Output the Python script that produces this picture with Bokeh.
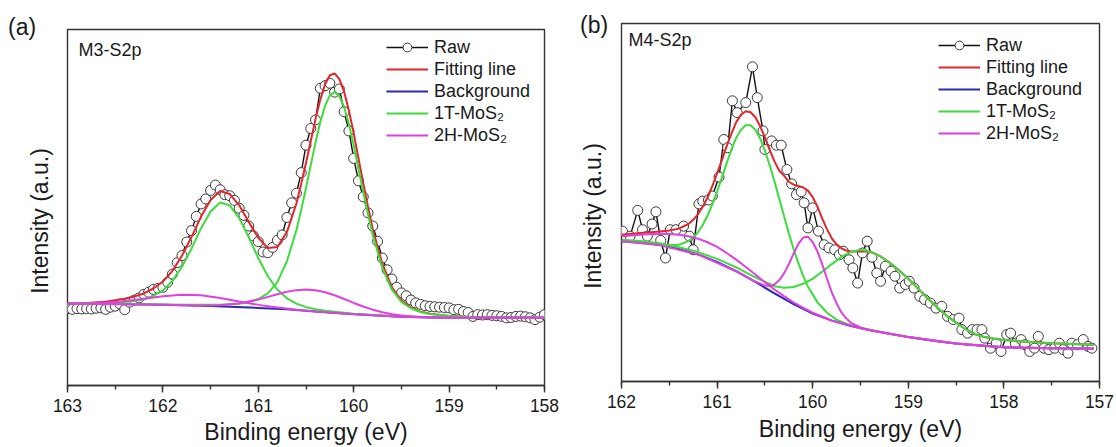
from bokeh.plotting import figure
from bokeh.layouts import row, column
from bokeh.models import Range1d, Label, Legend, LegendItem, SingleIntervalTicker, Div
from bokeh.embed import file_html
from bokeh.resources import INLINE

FONT = "Liberation Sans"
C_RED = "#e3262b"
C_BLUE = "#2a2ab8"
C_GREEN = "#3ddc3d"
C_MAG = "#e040e0"
C_FRAME = "#333333"
C_TEXT = "#1a1a1a"

series_names = ["Raw", "Fitting line", "Background", "1T-MoS\u2082", "2H-MoS\u2082"]
x_label = "Binding energy (eV)"
y_label = "Intensity (a.u.)"
panel_tags = ["(a)", "(b)"]
panel_names = ["M3-S2p", "M4-S2p"]

# ---------------- panel (a) : M3-S2p ----------------
raw_a_x = [163.00, 162.95, 162.90, 162.85, 162.80, 162.75, 162.70, 162.65, 162.60, 162.55,
           162.50, 162.45, 162.40, 162.35, 162.30, 162.25, 162.20, 162.15, 162.10, 162.05,
           162.00, 161.95, 161.90, 161.85, 161.80, 161.75, 161.70, 161.65, 161.60, 161.55,
           161.50, 161.45, 161.40, 161.35, 161.30, 161.25, 161.20, 161.15, 161.10, 161.05,
           161.00, 160.95, 160.90, 160.85, 160.80, 160.75, 160.70, 160.65, 160.60, 160.55,
           160.50, 160.45, 160.40, 160.35, 160.30, 160.25, 160.20, 160.15, 160.10, 160.05,
           160.00, 159.95, 159.90, 159.85, 159.80, 159.75, 159.70, 159.65, 159.60, 159.55,
           159.50, 159.45, 159.40, 159.35, 159.30, 159.25, 159.20, 159.15, 159.10, 159.05,
           159.00, 158.95, 158.90, 158.85, 158.80, 158.75, 158.70, 158.65, 158.60, 158.55,
           158.50, 158.45, 158.40, 158.35, 158.30, 158.25, 158.20, 158.15, 158.10, 158.05,
           158.00]
raw_a_y = [21.6, 21.4, 21.6, 21.5, 21.6, 21.5, 21.7, 21.8, 21.4, 22.0,
           22.3, 22.9, 21.3, 23.4, 24.0, 24.6, 25.6, 26.2, 27.0, 27.3,
           27.6, 29.0, 31.3, 34.5, 36.5, 40.3, 43.5, 47.5, 51.0, 52.4,
           54.8, 56.3, 55.0, 53.6, 53.3, 52.0, 49.8, 47.8, 44.8, 42.0,
           40.4, 37.5, 37.3, 38.8, 40.8, 42.3, 47.2, 51.3, 54.0, 59.8,
           67.5, 72.2, 74.6, 83.5, 84.2, 84.9, 82.4, 83.3, 76.9, 71.5,
           63.8, 57.5, 53.0, 48.5, 44.8, 40.5, 35.8, 32.5, 29.9, 27.6,
           26.0, 25.2, 24.0, 23.2, 22.8, 22.4, 22.2, 22.1, 22.0, 21.9,
           21.8, 21.3, 21.4, 20.8, 20.5, 19.4, 19.9, 19.8, 19.9, 19.7,
           19.6, 19.4, 19.0, 19.1, 19.4, 19.5, 19.3, 19.0, 18.5, 19.2,
           19.9]

fit_a_x = [163.0, 162.8, 162.6, 162.4, 162.3, 162.2, 162.1, 162.0, 161.9, 161.8,
           161.7, 161.6, 161.5, 161.4, 161.3, 161.2, 161.1, 161.0, 160.9, 160.8,
           160.7, 160.6, 160.55, 160.5, 160.45, 160.4, 160.35, 160.3, 160.25, 160.2,
           160.15, 160.1, 160.05, 160.0, 159.95, 159.9, 159.85, 159.8, 159.7, 159.6,
           159.5, 159.4, 159.3, 159.2, 159.0, 158.7, 158.4, 158.0]
fit_a_y = [23.1, 23.2, 23.55, 24.35, 25.0, 25.85, 27.25, 29.2, 32.2, 36.45,
           41.7, 47.45, 52.1, 54.65, 53.8, 50.6, 45.9, 41.5, 38.6, 38.9,
           43.1, 51.2, 56.7, 62.5, 68.7, 74.9, 80.3, 84.6, 87.15, 87.65,
           86.05, 82.5, 77.2, 70.85, 63.8, 56.8, 50.15, 43.9, 34.2, 27.6,
           23.95, 21.9, 20.75, 20.15, 19.5, 19.2, 19.1, 19.0]

bg_a_x = [163.0, 162.5, 162.0, 161.5, 161.0, 160.7, 160.4, 160.1, 159.8, 159.5, 159.2, 158.9, 158.0]
bg_a_y = [23.0, 22.9, 22.7, 22.3, 21.8, 21.4, 20.8, 20.2, 19.7, 19.3, 19.1, 19.0, 19.0]

t1_a1_x = [163.0, 162.6, 162.4, 162.3, 162.2, 162.1, 162.0, 161.9, 161.8, 161.7,
           161.6, 161.5, 161.4, 161.3, 161.2, 161.1, 161.0, 160.9, 160.8, 160.7,
           160.6, 160.5, 160.4, 160.3, 160.2, 160.0, 159.5, 159.0, 158.0]
t1_a1_y = [23.1, 23.2, 23.45, 23.75, 24.2, 25.15, 26.7, 29.4, 33.35, 38.45,
           44.2, 48.9, 51.4, 50.6, 47.0, 41.6, 35.8, 30.7, 26.95, 24.5,
           23.0, 22.0, 21.4, 21.0, 20.7, 20.15, 19.4, 19.05, 19.0]

t1_a2_x = [163.0, 162.0, 161.7, 161.4, 161.2, 161.1, 161.0, 160.9, 160.8, 160.7,
           160.6, 160.55, 160.5, 160.45, 160.4, 160.35, 160.3, 160.25, 160.2, 160.15,
           160.1, 160.05, 160.0, 159.95, 159.9, 159.85, 159.8, 159.7, 159.6, 159.5,
           159.4, 159.3, 159.2, 159.0, 158.7, 158.0]
t1_a2_y = [23.0, 22.75, 22.65, 22.7, 23.0, 23.4, 24.3, 25.9, 29.05, 34.9,
           43.7, 49.4, 55.5, 61.9, 68.3, 74.0, 78.6, 81.5, 82.4, 81.3,
           78.2, 73.4, 67.5, 60.9, 54.35, 48.1, 42.2, 33.05, 26.9, 23.5,
           21.7, 20.65, 20.1, 19.5, 19.2, 19.0]

h2_a1_x = [163.0, 162.8, 162.6, 162.4, 162.2, 162.0, 161.8, 161.7, 161.6, 161.4,
           161.2, 161.0, 160.8, 160.6, 160.4, 160.0, 159.5, 159.0, 158.0]
h2_a1_y = [23.02, 23.05, 23.25, 23.7, 24.4, 25.1, 25.5, 25.45, 25.35, 24.6,
           23.6, 22.65, 21.9, 21.3, 20.8, 20.0, 19.3, 19.0, 19.0]

h2_a2_x = [163.0, 162.0, 161.6, 161.4, 161.2, 161.0, 160.9, 160.8, 160.7, 160.6,
           160.5, 160.4, 160.3, 160.2, 160.1, 160.0, 159.9, 159.8, 159.7, 159.6,
           159.5, 159.3, 159.0, 158.0]
h2_a2_y = [23.0, 22.7, 22.5, 22.56, 23.03, 24.13, 24.89, 25.64, 26.34, 26.79,
           26.95, 26.75, 26.19, 25.34, 24.29, 23.19, 22.18, 21.3, 20.58, 20.03,
           19.66, 19.25, 19.0, 19.0]

# ---------------- panel (b) : M4-S2p ----------------
raw_b_x = [161.99, 161.91, 161.83, 161.78, 161.73, 161.68, 161.64, 161.59, 161.54, 161.49,
           161.43, 161.35, 161.29, 161.25, 161.19, 161.15, 161.09, 161.05, 160.98, 160.93,
           160.89, 160.84, 160.79, 160.70, 160.63, 160.58, 160.52, 160.50, 160.43, 160.38,
           160.33, 160.27, 160.22, 160.17, 160.12, 160.09, 160.05, 160.00, 159.94, 159.88,
           159.83, 159.77, 159.72, 159.68, 159.62, 159.58, 159.53, 159.48, 159.43, 159.38,
           159.33, 159.29, 159.24, 159.18, 159.14, 159.09, 159.03, 158.99, 158.94, 158.88,
           158.83, 158.77, 158.71, 158.65, 158.59, 158.53, 158.47, 158.44, 158.38, 158.33,
           158.28, 158.23, 158.20, 158.14, 158.08, 158.03, 157.97, 157.93, 157.88, 157.82,
           157.78, 157.73, 157.68, 157.64, 157.58, 157.53, 157.47, 157.42, 157.38, 157.33,
           157.29, 157.23, 157.17, 157.12, 157.08]
raw_b_y = [42.0, 40.6, 47.8, 42.4, 40.6, 44.0, 47.4, 39.4, 34.5, 42.4,
           42.4, 43.4, 40.6, 36.8, 49.6, 50.4, 50.7, 51.8, 57.1, 67.6,
           65.3, 78.4, 75.1, 77.9, 87.9, 79.3, 70.0, 64.8, 67.2, 66.0,
           66.0, 59.2, 55.2, 52.2, 53.0, 49.9, 42.9, 48.5, 42.0, 38.2,
           37.3, 36.8, 35.4, 36.4, 34.0, 31.7, 27.5, 35.9, 39.2, 34.7,
           30.3, 28.0, 32.2, 30.8, 29.4, 26.1, 27.1, 28.0, 26.1, 23.8,
           22.9, 21.9, 20.5, 21.0, 18.2, 17.3, 17.7, 14.5, 13.5, 14.5,
           14.5, 14.5, 12.1, 9.3, 10.7, 8.4, 13.1, 13.5, 10.7, 11.7,
           10.3, 8.4, 9.3, 12.6, 9.3, 8.9, 9.3, 10.7, 8.9, 7.9,
           10.7, 10.3, 11.7, 9.8, 9.3]

fit_b_x = [162.0, 161.8, 161.6, 161.5, 161.4, 161.3, 161.25, 161.2, 161.15, 161.1,
           161.05, 161.0, 160.95, 160.9, 160.85, 160.8, 160.75, 160.7, 160.65, 160.6,
           160.55, 160.5, 160.45, 160.4, 160.35, 160.3, 160.25, 160.2, 160.15, 160.1,
           160.05, 160.0, 159.95, 159.9, 159.85, 159.8, 159.75, 159.7, 159.65, 159.6,
           159.5, 159.4, 159.3, 159.2, 159.1, 159.0, 158.9, 158.8, 158.7, 158.6,
           158.5, 158.4, 158.3, 158.2, 158.1, 158.0, 157.8, 157.5, 157.06]
fit_b_y = [41.0, 41.45, 41.9, 42.15, 42.7, 44.0, 45.15, 46.75, 48.8, 51.4,
           54.55, 58.15, 61.85, 65.75, 69.25, 72.45, 74.5, 75.5, 75.2, 73.8,
           71.35, 68.2, 64.7, 61.5, 58.85, 57.5, 55.8, 55.0, 54.6, 54.2,
           53.3, 51.5, 48.8, 45.5, 42.5, 40.0, 38.3, 37.2, 36.6, 36.3,
           36.4, 36.3, 35.1, 33.3, 31.15, 28.7, 26.0, 23.3, 20.75, 18.4,
           16.4, 14.6, 13.2, 12.4, 11.95, 11.6, 11.2, 10.7, 10.3]

bg_b_x = [162.0, 161.8, 161.6, 161.4, 161.2, 161.0, 160.8, 160.6, 160.4, 160.2,
          160.0, 159.8, 159.6, 159.4, 159.2, 159.0, 158.8, 158.6, 158.4, 158.2,
          158.0, 157.8, 157.5, 157.06]
bg_b_y = [39.2, 38.8, 38.1, 37.0, 35.5, 33.4, 30.8, 27.8, 24.6, 21.6,
          19.0, 17.0, 15.5, 14.3, 13.3, 12.4, 11.6, 10.9, 10.3, 9.9,
          9.6, 9.4, 9.3, 9.2]

t1_b1_x = [162.0, 161.6, 161.5, 161.4, 161.3, 161.25, 161.2, 161.15, 161.1, 161.05,
           161.0, 160.95, 160.9, 160.85, 160.8, 160.75, 160.7, 160.65, 160.6, 160.55,
           160.5, 160.45, 160.4, 160.35, 160.3, 160.25, 160.2, 160.15, 160.1, 160.05,
           159.95, 159.85, 159.75, 159.65, 159.5, 159.0, 158.5, 158.0, 157.5, 157.06]
t1_b1_y = [39.2, 38.2, 38.05, 38.2, 39.2, 40.2, 41.7, 43.7, 46.3, 49.45,
           53.1, 56.95, 61.0, 64.75, 68.1, 70.35, 71.6, 71.55, 70.3, 67.9,
           64.5, 60.4, 55.9, 51.05, 46.2, 41.45, 37.0, 33.05, 29.5, 26.55,
           22.1, 19.2, 17.3, 16.15, 14.95, 12.4, 10.6, 9.6, 9.3, 9.2]

t1_b2_x = [162.0, 161.8, 161.6, 161.4, 161.2, 161.0, 160.8, 160.6, 160.4, 160.3,
           160.2, 160.1, 160.0, 159.9, 159.8, 159.7, 159.6, 159.5, 159.45, 159.4,
           159.3, 159.2, 159.1, 159.0, 158.9, 158.8, 158.7, 158.6, 158.5, 158.4,
           158.3, 158.2, 158.1, 158.0, 157.8, 157.5, 157.06]
t1_b2_y = [39.6, 39.25, 38.6, 37.5, 36.15, 34.25, 31.9, 29.1, 26.6, 26.2,
           26.4, 27.3, 28.7, 30.7, 32.8, 34.8, 36.2, 36.8, 36.6, 36.3,
           35.1, 33.3, 31.15, 28.7, 26.0, 23.3, 20.75, 18.4, 16.4, 14.6,
           13.2, 12.4, 11.95, 11.6, 11.2, 10.7, 10.3]

h2_b1_x = [162.0, 161.9, 161.8, 161.7, 161.6, 161.5, 161.4, 161.3, 161.2, 161.1,
           161.0, 160.9, 160.8, 160.7, 160.6, 160.5, 160.4, 160.3, 160.2, 160.1,
           160.0, 159.8, 159.5, 159.0, 158.5, 158.0, 157.5, 157.06]
h2_b1_y = [40.6, 40.8, 41.0, 41.2, 41.3, 41.2, 41.0, 40.55, 39.9, 38.9,
           37.6, 35.9, 34.05, 32.0, 29.9, 27.75, 25.7, 23.85, 22.07, 20.6,
           19.2, 17.05, 14.9, 12.4, 10.6, 9.6, 9.3, 9.2]

h2_b2_x = [162.0, 161.6, 161.2, 160.8, 160.6, 160.5, 160.45, 160.4, 160.35, 160.3,
           160.25, 160.2, 160.15, 160.1, 160.05, 160.0, 159.95, 159.9, 159.85, 159.8,
           159.75, 159.7, 159.65, 159.6, 159.5, 159.4, 159.0, 158.5, 158.0, 157.5,
           157.06]
h2_b2_y = [39.2, 38.1, 35.5, 30.8, 27.9, 26.8, 26.7, 27.1, 28.25, 30.2,
           32.75, 35.7, 38.45, 40.2, 40.45, 38.9, 36.3, 32.7, 28.7, 24.9,
           21.8, 19.3, 17.65, 16.4, 15.1, 14.3, 12.4, 10.6, 9.6, 9.3,
           9.2]

PAGE_H = 447


def gutter(width, tag, tag_left, tag_top, ylab_cx, ylab_cy):
    """Narrow HTML strip left of a panel holding the panel tag and the y title."""
    font = "font-family:'Liberation Sans',Arial,sans-serif;color:%s;font-size:23px;line-height:23px;" % C_TEXT
    html = (
        '<div style="position:relative;width:%dpx;height:%dpx;margin:0;padding:0;">' % (width, PAGE_H)
        + '<span style="position:absolute;left:%dpx;top:%dpx;white-space:nowrap;%s">%s</span>'
        % (tag_left, tag_top, font, tag)
        + '<span style="position:absolute;left:%dpx;top:%dpx;white-space:nowrap;%s'
          'transform:translate(-50%%,-50%%) rotate(-90deg);">%s</span>'
        % (ylab_cx, ylab_cy, font, y_label)
        + '</div>'
    )
    return Div(text=html, width=width, height=PAGE_H, margin=0)


def build(width, bl, br, bt, bb, xr, raw, fit, bg, t1s, h2s, name, name_pos, leg_loc, xlab_standoff):
    p = figure(width=width, height=PAGE_H, output_backend="svg", toolbar_location=None,
               x_range=Range1d(xr[0], xr[1]), y_range=Range1d(0, 100),
               min_border_left=bl, min_border_right=br, min_border_top=bt, min_border_bottom=bb)
    p.background_fill_color = "white"
    p.border_fill_alpha = 0
    p.outline_line_color = C_FRAME
    p.outline_line_width = 1.4
    p.xgrid.visible = False
    p.ygrid.visible = False
    p.yaxis.visible = False

    ax = p.xaxis[0]
    ax.ticker = SingleIntervalTicker(interval=1, num_minor_ticks=2)
    ax.major_tick_out = 7
    ax.major_tick_in = 0
    ax.minor_tick_out = 4
    ax.minor_tick_in = 0
    ax.major_tick_line_color = C_FRAME
    ax.minor_tick_line_color = C_FRAME
    ax.major_tick_line_width = 1.4
    ax.minor_tick_line_width = 1.4
    ax.axis_line_color = C_FRAME
    ax.axis_line_width = 1.4
    ax.major_label_text_font = FONT
    ax.major_label_text_font_size = "17.5px"
    ax.major_label_text_color = C_TEXT
    ax.major_label_standoff = 6
    ax.axis_label = x_label
    ax.axis_label_text_font = FONT
    ax.axis_label_text_font_size = "23px"
    ax.axis_label_text_font_style = "normal"
    ax.axis_label_text_color = C_TEXT
    ax.axis_label_standoff = xlab_standoff

    r_raw_l = p.line(raw[0], raw[1], line_color="#111111", line_width=1.4)
    r_raw_s = p.scatter(raw[0], raw[1], marker="circle", size=10, fill_color="white",
                        line_color="#3a3a3a", line_width=1.0)
    r_fit = p.line(fit[0], fit[1], line_color=C_RED, line_width=2.0)
    r_bg = p.line(bg[0], bg[1], line_color=C_BLUE, line_width=2.0)
    r_t1 = [p.line(xx, yy, line_color=C_GREEN, line_width=2.0) for xx, yy in t1s]
    r_h2 = [p.line(xx, yy, line_color=C_MAG, line_width=2.0) for xx, yy in h2s]

    legend = Legend(items=[
        LegendItem(label=series_names[0], renderers=[r_raw_l, r_raw_s]),
        LegendItem(label=series_names[1], renderers=[r_fit]),
        LegendItem(label=series_names[2], renderers=[r_bg]),
        LegendItem(label=series_names[3], renderers=[r_t1[0]]),
        LegendItem(label=series_names[4], renderers=[r_h2[0]]),
    ], location=leg_loc)
    legend.glyph_width = 42
    legend.glyph_height = 22
    legend.label_height = 22
    legend.label_standoff = 6
    legend.spacing = 0
    legend.padding = 0
    legend.margin = 0
    legend.border_line_alpha = 0
    legend.background_fill_alpha = 0
    legend.label_text_font = FONT
    legend.label_text_font_size = "18px"
    legend.label_text_color = C_TEXT
    p.add_layout(legend)

    p.add_layout(Label(x=name_pos[0], y=name_pos[1], x_units="screen", y_units="screen",
                       text=name, text_font=FONT, text_font_size="18px", text_color=C_TEXT,
                       text_align="left", text_baseline="middle"))
    return p


g1 = gutter(52, panel_tags[0], 8, 16, 40, 221)
p1 = build(508, 15, 16, 29, 62, (163, 158),
           (raw_a_x, raw_a_y), (fit_a_x, fit_a_y), (bg_a_x, bg_a_y),
           [(t1_a1_x, t1_a1_y), (t1_a2_x, t1_a2_y)],
           [(h2_a1_x, h2_a1_y), (h2_a2_x, h2_a2_y)],
           panel_names[0], (11, 335.5), (319, 239), 4)

g2 = gutter(46, panel_tags[1], 20, 14, 33, 216)
p2 = build(510, 15, 17, 23, 66, (162, 157),
           (raw_b_x, raw_b_y), (fit_b_x, fit_b_y), (bg_b_x, bg_b_y),
           [(t1_b1_x, t1_b1_y), (t1_b2_x, t1_b2_y)],
           [(h2_b1_x, h2_b1_y), (h2_b2_x, h2_b2_y)],
           panel_names[1], (7, 342), (317, 237), 5)

layout = row(g1, column(p1), g2, column(p2))
open("out.html", "w").write(file_html(layout, INLINE))
